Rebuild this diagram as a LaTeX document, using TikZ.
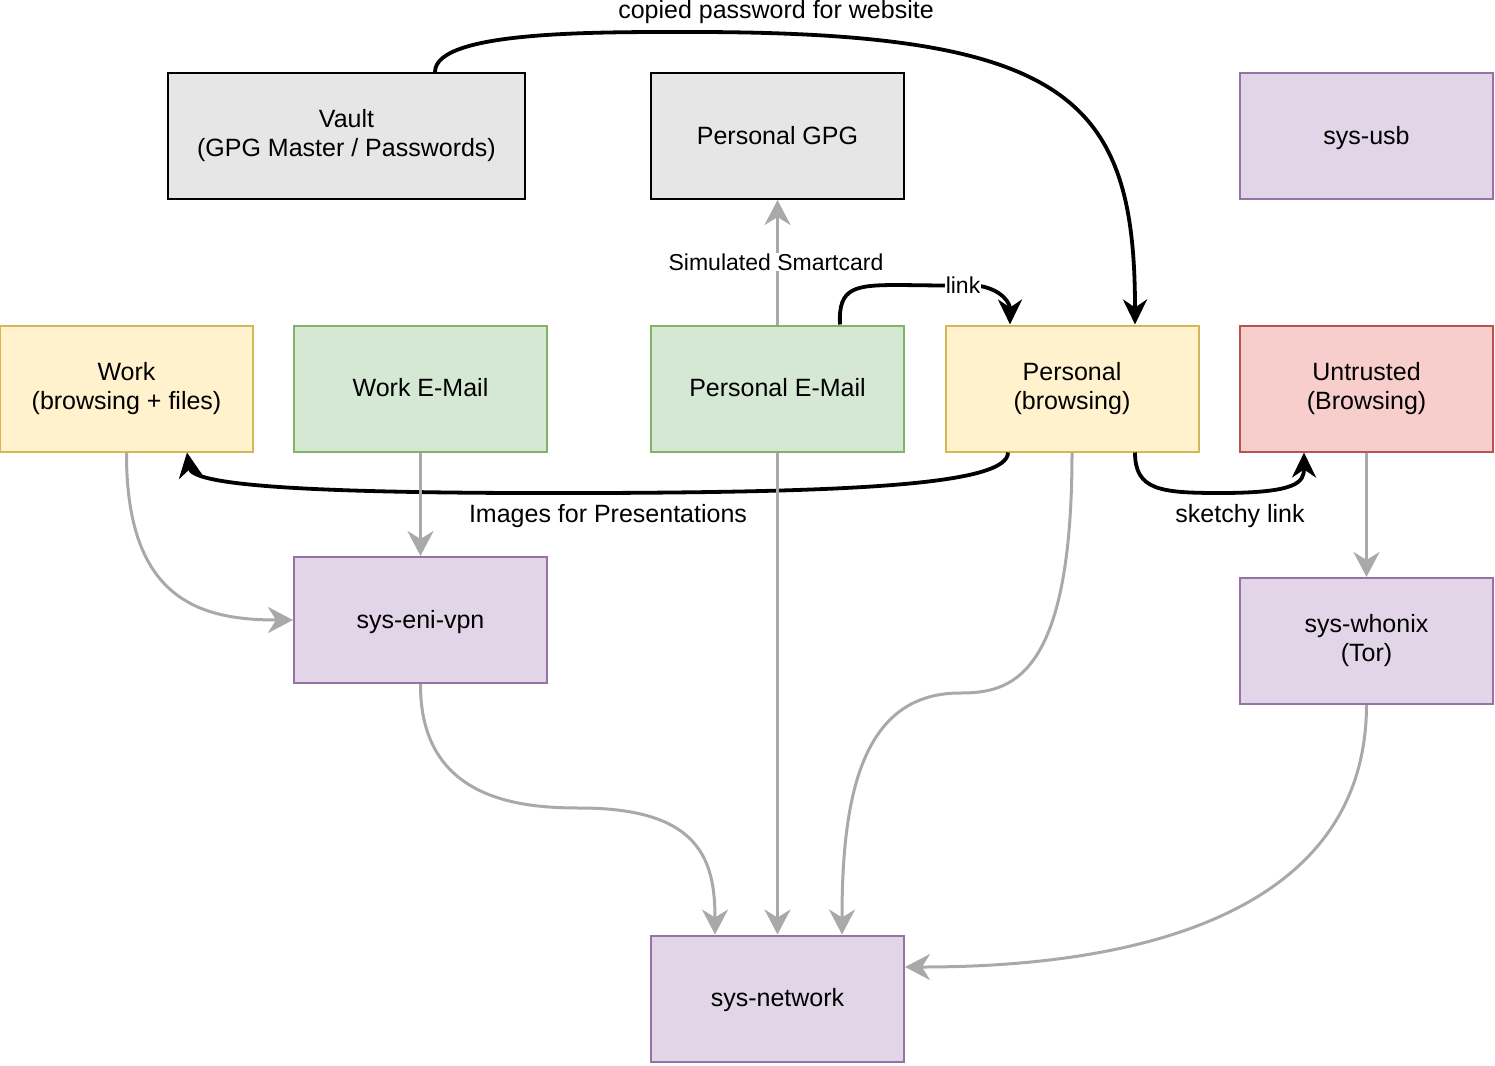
\documentclass[tikz,border=0pt]{standalone}
\usepackage{fontspec}
\setmainfont{Liberation Sans}
\usetikzlibrary{arrows.meta}
\definecolor{grayfill}{HTML}{E6E6E6}
\definecolor{yelfill}{HTML}{FFF2CC}
\definecolor{yeldraw}{HTML}{D6B656}
\definecolor{grnfill}{HTML}{D5E8D4}
\definecolor{grndraw}{HTML}{82B366}
\definecolor{purfill}{HTML}{E1D5E7}
\definecolor{purdraw}{HTML}{9673A6}
\definecolor{redfill}{HTML}{F8CECC}
\definecolor{reddraw}{HTML}{B85450}
\definecolor{edgegray}{HTML}{A9A9A9}
\begin{document}
\begin{tikzpicture}[x=1pt,y=-1pt,
  every node/.style={font=\fontsize{25}{29}\selectfont, align=center, inner sep=0pt},
  box/.style={rectangle, line width=2pt, minimum width=#1, minimum height=126pt,
    execute at begin node={\rule[-6pt]{0pt}{28pt}},
    execute at end node={\rule[-6pt]{0pt}{28pt}}},
  box/.default=253pt,
  gbox/.style={box=#1, fill=grayfill, draw=black},
  gbox/.default=253pt,
  ybox/.style={box, fill=yelfill, draw=yeldraw},
  grbox/.style={box, fill=grnfill, draw=grndraw},
  pbox/.style={box, fill=purfill, draw=purdraw},
  rbox/.style={box, fill=redfill, draw=reddraw},
  blk/.style={line width=3.8pt, draw=black, -{Stealth[length=25pt,width=24pt,inset=8pt]}},
  gry/.style={line width=3pt, draw=edgegray, -{Stealth[length=25pt,width=26pt,inset=8pt]}},
  lbl/.style={fill=white, inner sep=1pt, font=\fontsize{23}{29}\selectfont}
]
\useasboundingbox (0,0) rectangle (1495,1065);

% nodes
\node[gbox=357pt] (vault) at (346.5,136) {Vault\\(GPG Master / Passwords)};
\node[gbox] (pgpg) at (777.5,136) {Personal GPG};
\node[pbox] (usb) at (1366.5,136) {sys-usb};
\node[ybox] (work) at (126.5,388.5) {Work\\(browsing + files)};
\node[grbox] (wmail) at (420.5,388.5) {Work E-Mail};
\node[grbox] (pmail) at (777.5,388.5) {Personal E-Mail};
\node[ybox] (pers) at (1072,388.5) {Personal\\(browsing)};
\node[rbox] (untr) at (1366.5,388.5) {Untrusted\\(Browsing)};
\node[pbox] (vpn) at (420.5,620) {sys-eni-vpn};
\node[pbox] (whonix) at (1366.5,641) {sys-whonix\\(Tor)};
\node[pbox] (net) at (777.5,998.5) {sys-network};

% black edges
\draw[blk] (vault.north -| 435,0) .. controls (435,30) and (600,32) .. (700,32)
   .. controls (1070,33) and (1135,100) .. (pers.north -| 1135,0);
\node (lcopy) at (776,12) {copied password for website};

\draw[blk] (pmail.north -| 840,0) .. controls (838,287) and (855,285) .. (900,285)
   -- (980,286) .. controls (1002,290) and (1010,303) .. (pers.north -| 1010,0);
\node[lbl] (llink) at (963,285) {link};

\draw[blk] (pers.south -| 1008,0) .. controls (1008,485) and (850,492) .. (600,493)
   .. controls (300,494) and (192,485) .. (work.south -| 187,0);
\node (limg) at (608,516) {Images for Presentations};

\draw[blk] (pers.south -| 1135,0) .. controls (1135,490) and (1160,493) .. (1220,493)
   .. controls (1298,493) and (1304,482) .. (untr.south -| 1304,0);
\node (lsk) at (1240,516) {sketchy link};

% gray edges
\draw[gry] (pmail.north) -- (pgpg.south);
\node[lbl] (lsmart) at (776,262) {Simulated Smartcard};

\draw[gry] (work.south) .. controls (126,600) and (200,620) .. (vpn.west);
\draw[gry] (wmail.south) -- (vpn.north);
\draw[gry] (pmail.south) -- (net.north);
\draw[gry] (vpn.south) .. controls (420,800) and (520,808) .. (580,808)
   .. controls (700,808) and (715,860) .. (net.north -| 715,0);
\draw[gry] (pers.south) .. controls (1072,680) and (1010,693) .. (960,693)
   .. controls (860,693) and (842,800) .. (net.north -| 842,0);
\draw[gry] (untr.south) -- (whonix.north);
\draw[gry] (whonix.south) .. controls (1366,950) and (1050,967) .. (net.east |- 0,967);
\end{tikzpicture}
\end{document}
